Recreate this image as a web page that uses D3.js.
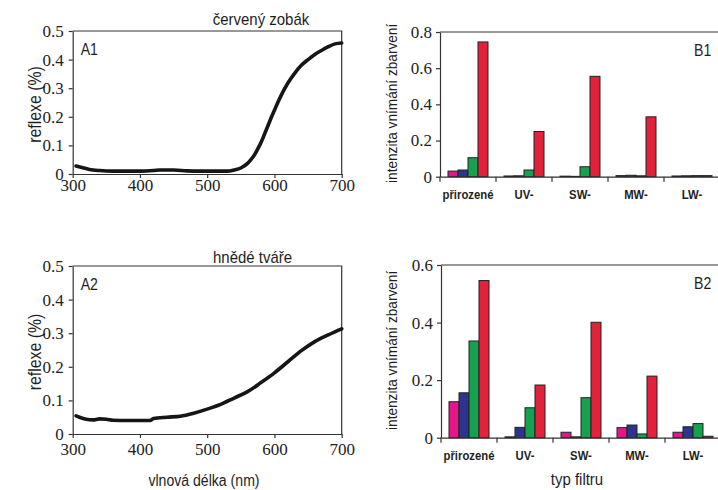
<!DOCTYPE html>
<html>
<head>
<meta charset="utf-8">
<script src="https://cdn.jsdelivr.net/npm/d3@7"></script>
<style>
body { margin: 0; background: #fff; }
svg { display: block; }
.sans { font-family: "Liberation Sans", Arial, sans-serif; fill: #1e1e1e; }
.num path, .num line { stroke: #333; stroke-width: 1.2; }
</style>
</head>
<body>
<svg id="fig" width="718" height="490"></svg>
<script>
// reflectance spectra (wavelength nm -> reflexe)
var wlRed = [305, 315, 325, 340, 360, 380, 400, 420, 430, 450, 470, 490, 510, 530, 540, 550, 560, 565, 570, 575,
             580, 585, 590, 595, 600, 605, 610, 620, 630, 640, 650, 660, 670, 680, 690, 700]
var reflRed = [0.028, 0.022, 0.016, 0.012, 0.010, 0.010, 0.010, 0.012, 0.014, 0.014, 0.011, 0.010, 0.010, 0.010, 0.014, 0.021, 0.037, 0.050, 0.066, 0.087,
               0.110, 0.138, 0.167, 0.196, 0.223, 0.250, 0.275, 0.318, 0.352, 0.380, 0.400, 0.418, 0.432, 0.445, 0.455, 0.458]

var wlBrown = [305, 310, 320, 330, 340, 350, 360, 380, 400, 415, 420, 440, 460, 480, 500, 520, 540, 560, 580, 600, 620, 640, 660, 680, 700]
var reflBrown = [0.054, 0.050, 0.044, 0.042, 0.045, 0.044, 0.041, 0.040, 0.040, 0.040, 0.046, 0.050, 0.053, 0.062, 0.074, 0.088, 0.107, 0.126, 0.153, 0.182, 0.215, 0.248, 0.275, 0.295, 0.313]

var waveTicks = [300, 400, 500, 600, 700]
var reflTicks = [0, 0.1, 0.2, 0.3, 0.4, 0.5]

// perceived colour intensity per filter
var filters = ["přirozené", "UV-", "SW-", "MW-", "LW-"]
var cones = ["UV", "SW", "MW", "LW"]
var coneColor = ["#e5168a", "#2b3590", "#16a150", "#e2213a"]

var b1UV = [0.031, 0.004, 0.003, 0.006, 0.004]
var b1SW = [0.037, 0.005, 0.002, 0.008, 0.005]
var b1MW = [0.105, 0.037, 0.055, 0.005, 0.006]
var b1LW = [0.745, 0.250, 0.555, 0.331, 0.006]

var b2UV = [0.125, 0.003, 0.019, 0.035, 0.019]
var b2SW = [0.156, 0.036, 0.003, 0.044, 0.038]
var b2MW = [0.336, 0.104, 0.139, 0.013, 0.049]
var b2LW = [0.546, 0.183, 0.401, 0.214, 0.005]

var b1Ticks = [0, 0.2, 0.4, 0.6, 0.8]
var b2Ticks = [0, 0.2, 0.4, 0.6]

var svg = d3.select("#fig")

var fmt = function(d) { return d === 0 ? "0" : d3.format(".1f")(d) }
var serif = '"Liberation Serif", "Times New Roman", "DejaVu Serif", serif'

// horizontally squeeze sans labels like the scanned figure
function squeeze(sel, k) {
    sel.each(function() {
        var w = this.getComputedTextLength()
        this.setAttribute("textLength", w * k)
        this.setAttribute("lengthAdjust", "spacingAndGlyphs")
    })
    return sel
}

function numbers(g) {
    g.attr("font-family", serif).attr("font-size", 17)
    g.selectAll("text").style("font-family", serif).style("font-size", "17px").attr("fill", "#222")
    return g
}

function label(txt, x, y, size, anchor, opts) {
    opts = opts || {}
    var t = svg.append("text")
        .attr("class", "sans")
        .attr("x", x).attr("y", y)
        .attr("font-size", size)
        .attr("text-anchor", anchor)
        .text(txt)
    if (opts.bold) t.attr("font-weight", "bold")
    if (opts.rotate) t.attr("transform", "rotate(-90," + x + "," + y + ")")
    squeeze(t, opts.k || 0.88)
    return t
}

function lineCard(o) {
    var x = d3.scaleLinear().domain([300, 700]).range([o.left, o.right])
    var y = d3.scaleLinear().domain([0, 0.5]).range([o.bottom, o.top])

    var gx = svg.append("g").attr("class", "num")
        .attr("transform", "translate(0," + o.bottom + ")")
        .call(d3.axisBottom(x).tickValues(waveTicks).tickSize(4).tickSizeOuter(0).tickFormat(d3.format("d")))
    numbers(gx)
    gx.selectAll("text").attr("dy", null).attr("y", o.xLab)

    var gy = svg.append("g").attr("class", "num")
        .attr("transform", "translate(" + o.left + ",0)")
        .call(d3.axisLeft(y).tickValues(reflTicks).tickSize(4).tickSizeOuter(0).tickPadding(5).tickFormat(fmt))
    numbers(gy)

    // top and right frame
    svg.append("path")
        .attr("d", "M" + o.left + "," + o.top + "H" + o.right + "V" + o.bottom)
        .attr("fill", "none").attr("stroke", "#333").attr("stroke-width", 1.2)

    var line = d3.line()
        .x(function(d) { return x(d[0]) })
        .y(function(d) { return y(d[1]) })
        .curve(d3.curveMonotoneX)

    svg.append("path")
        .datum(d3.zip(o.wl, o.refl))
        .attr("d", line)
        .attr("fill", "none")
        .attr("stroke", "#161616")
        .attr("stroke-width", 3.6)
        .attr("stroke-linecap", "round")
        .attr("stroke-linejoin", "round")

    label(o.tag, o.left + 8, o.top + 24, 16, "start")
    label(o.title, o.titleX, o.titleY, 17, "middle")
    label("reflexe (%)", 41, (o.top + o.bottom) / 2 + 2, 18, "middle", { rotate: true })
}

function barCard(o) {
    var x = d3.scaleBand().domain(filters).range([o.left, o.right])
    var inner = d3.scaleBand().domain(cones).range([8, 48])
    var y = d3.scaleLinear().domain([0, o.max]).range([o.bottom, o.top])

    var rows = filters.map(function(f, i) {
        return cones.map(function(c, j) { return { filter: f, cone: j, value: o.values[j][i] } })
    })

    svg.append("g").selectAll("rect")
        .data(d3.merge(rows))
        .join("rect")
        .attr("x", function(d) { return x(d.filter) + inner(cones[d.cone]) })
        .attr("y", function(d) { return y(d.value) })
        .attr("width", inner.bandwidth())
        .attr("height", function(d) { return y(0) - y(d.value) })
        .attr("fill", function(d) { return coneColor[d.cone] })
        .attr("stroke", "#222")
        .attr("stroke-width", 1)

    var gy = svg.append("g").attr("class", "num")
        .attr("transform", "translate(" + o.left + ",0)")
        .call(d3.axisLeft(y).tickValues(o.ticks).tickSize(4).tickSizeOuter(0).tickPadding(4).tickFormat(fmt))
    numbers(gy)

    var gx = svg.append("g").attr("class", "num")
        .attr("transform", "translate(0," + o.bottom + ")")
        .call(d3.axisBottom(x).tickSize(0).tickSizeOuter(0))
    gx.selectAll("text").remove()

    // ticks at the band edges
    var edges = filters.map(function(f) { return x(f) }).concat([x.range()[1]])
    gx.selectAll(".edge").data(edges).join("line")
        .attr("x1", function(d) { return d }).attr("x2", function(d) { return d })
        .attr("y1", 0).attr("y2", 5)

    filters.forEach(function(f) {
        label(f, x(f) + x.bandwidth() / 2, o.bottom + 22, 13, "middle", { bold: true, k: 0.87 })
    })

    svg.append("path")
        .attr("d", "M" + o.left + "," + o.top + "H" + o.right + "V" + o.bottom)
        .attr("fill", "none").attr("stroke", "#333").attr("stroke-width", 1.2)

    label(o.tag, 694, o.top + 24, 16, "start")
    label("intenzita vnímání zbarvení", 397, (o.top + o.bottom) / 2 - 1, 15.5, "middle", { rotate: true })
}

lineCard({ left: 72.7, right: 341.7, top: 31, bottom: 174, xLab: 16.5,
           wl: wlRed, refl: reflRed, tag: "A1", title: "červený zobák", titleX: 261, titleY: 25 })
lineCard({ left: 72.7, right: 341.7, top: 266, bottom: 434, xLab: 21,
           wl: wlBrown, refl: reflBrown, tag: "A2", title: "hnědé tváře", titleX: 252.5, titleY: 263 })

barCard({ left: 440, right: 720, top: 32, bottom: 176.7, max: 0.8, ticks: b1Ticks,
          values: [b1UV, b1SW, b1MW, b1LW], tag: "B1" })
barCard({ left: 441, right: 721, top: 265, bottom: 437.7, max: 0.6, ticks: b2Ticks,
          values: [b2UV, b2SW, b2MW, b2LW], tag: "B2" })

label("vlnová délka (nm)", 204, 486, 16, "middle")
label("typ filtru", 577, 485, 17, "middle")
</script>
</body>
</html>
